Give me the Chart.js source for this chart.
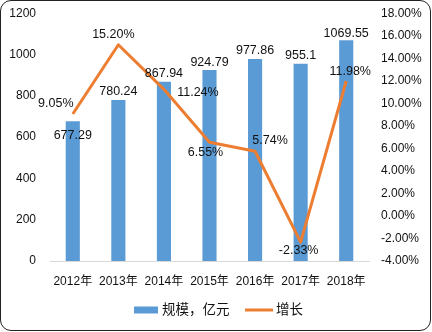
<!DOCTYPE html>
<html>
<head>
<meta charset="utf-8">
<script src="https://cdn.jsdelivr.net/npm/chart.js@4/dist/chart.umd.min.js"></script>
<style>
  body { margin: 0; background: #fff; }
  #wrap { position: relative; width: 432px; height: 332px; }
  #frame {
    position: absolute; left: 0; top: 0; width: 431px; height: 331px;
    box-sizing: border-box; border: 1.5px solid #222; border-radius: 11px;
    pointer-events: none;
  }
</style>
</head>
<body>
<div id="wrap">
  <canvas id="chart" width="432" height="332"></canvas>
  <div id="frame"></div>
</div>
<script>
// Chart data
const years = ['2012年', '2013年', '2014年', '2015年', '2016年', '2017年', '2018年'];
const scale = [677.29, 780.24, 867.94, 924.79, 977.86, 955.1, 1069.55];   // 规模，亿元
const growth = [9.05, 15.20, 11.24, 6.55, 5.74, -2.33, 11.98];            // 增长, %
const scaleLabels = ['677.29', '780.24', '867.94', '924.79', '977.86', '955.1', '1069.55'];

// Label placement (pixels relative to the mark)
const barLabelDy = [14, -8, -8, -7, -9, -8, -7];
const lineLabelOffsets = [[-17, -10], [-5, -10], [34, 3], [-4, 10], [15, -11], [-2, 8], [4, -9]];

const FONT = '"Liberation Sans", "Noto Sans CJK SC", sans-serif';
const BLUE = '#5B9BD5';
const ORANGE = '#ED7D31';
const TEXT = '#111';

// Draw value labels on bars and line points
const valueLabels = {
    id: 'valueLabels',
    afterDatasetsDraw(chart) {
        const ctx = chart.ctx;
        ctx.save();
        ctx.font = '12.5px ' + FONT;
        ctx.fillStyle = TEXT;
        ctx.textAlign = 'center';
        ctx.textBaseline = 'middle';

        chart.getDatasetMeta(0).data.forEach((bar, i) => {
            ctx.fillText(scaleLabels[i], bar.x, bar.y + barLabelDy[i]);
        });

        chart.getDatasetMeta(1).data.forEach((pt, i) => {
            const [dx, dy] = lineLabelOffsets[i];
            ctx.fillText(growth[i].toFixed(2) + '%', pt.x + dx, pt.y + dy);
        });
        ctx.restore();
    }
};

// Legend drawn by hand: box for bars, short line for the series line
const customLegend = {
    id: 'customLegend',
    afterDraw(chart) {
        const ctx = chart.ctx;
        const y = 310;
        ctx.save();
        ctx.font = '13.5px ' + FONT;
        ctx.fillStyle = TEXT;
        ctx.textBaseline = 'middle';
        ctx.textAlign = 'left';

        ctx.fillStyle = BLUE;
        ctx.fillRect(134, y - 3.5, 24, 7);
        ctx.fillStyle = TEXT;
        ctx.fillText('规模，亿元', 162, y);

        ctx.strokeStyle = ORANGE;
        ctx.lineWidth = 3;
        ctx.beginPath();
        ctx.moveTo(245, y);
        ctx.lineTo(273, y);
        ctx.stroke();
        ctx.fillText('增长', 276, y);
        ctx.restore();
    }
};

new Chart(document.getElementById('chart'), {
    type: 'bar',
    data: {
        labels: years,
        datasets: [
            {
                label: '规模，亿元',
                data: scale,
                backgroundColor: BLUE,
                categoryPercentage: 1,
                barPercentage: 0.31,
                yAxisID: 'y',
                order: 1
            },
            {
                type: 'line',
                label: '增长',
                data: growth,
                borderColor: ORANGE,
                borderWidth: 3,
                pointRadius: 0,
                tension: 0,
                borderJoinStyle: 'round',
                yAxisID: 'y1',
                order: 0
            }
        ]
    },
    options: {
        responsive: false,
        animation: false,
        layout: { padding: { top: 13, left: 0, right: 0, bottom: 0 } },
        plugins: {
            legend: { display: false },
            tooltip: { enabled: false }
        },
        scales: {
            x: {
                grid: { display: false },
                border: { display: true, color: '#D9D9D9', width: 1 },
                ticks: { color: TEXT, font: { family: FONT, size: 12 }, padding: 5, maxRotation: 0, autoSkip: false },
                afterFit(s) { s.height = 71; }
            },
            y: {
                position: 'left',
                min: 0,
                max: 1200,
                grid: { display: false },
                border: { display: false },
                ticks: {
                    stepSize: 200,
                    color: TEXT,
                    font: { family: FONT, size: 12 },
                    padding: 6,
                    callback: v => String(v)
                },
                afterFit(s) { s.width = 50; }
            },
            y1: {
                position: 'right',
                min: -4,
                max: 18,
                grid: { display: false },
                border: { display: false },
                ticks: {
                    stepSize: 2,
                    color: TEXT,
                    font: { family: FONT, size: 12 },
                    padding: 4,
                    callback: v => v.toFixed(2) + '%'
                },
                afterFit(s) { s.width = 63; }
            }
        }
    },
    plugins: [valueLabels, customLegend]
});
</script>
</body>
</html>
